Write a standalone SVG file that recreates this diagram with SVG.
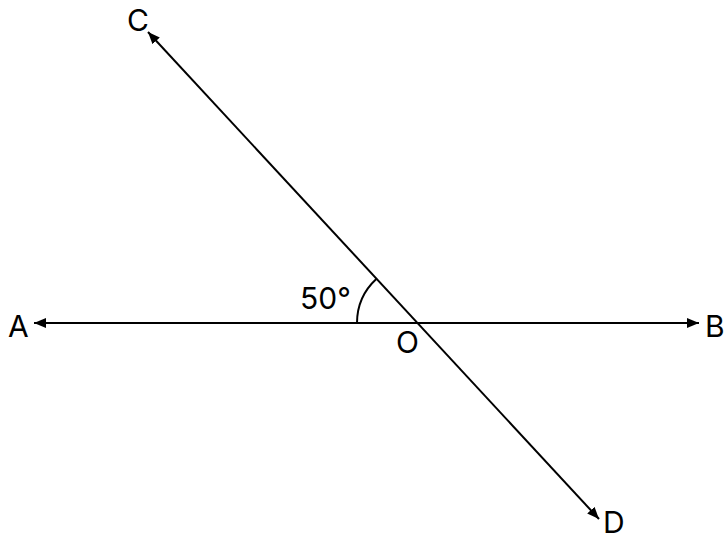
<svg xmlns="http://www.w3.org/2000/svg" width="728" height="545" viewBox="0 0 728 545">
<style>
.ln{stroke:#000;stroke-width:2;fill:none}
.lb{font-family:Inter,"Liberation Sans",sans-serif;font-size:30px;fill:#000}
</style>
<defs>
<marker id="ah" viewBox="0 0 12 10" refX="12" refY="5" markerWidth="12" markerHeight="10" markerUnits="userSpaceOnUse" orient="auto-start-reverse">
<path d="M0,0 L12,5 L0,10 z" fill="#000"/>
</marker>
</defs>
<rect width="728" height="545" fill="#fff"/>
<g id="connectors">
<line class="ln" x1="34" y1="323" x2="699" y2="323" marker-start="url(#ah)" marker-end="url(#ah)"/>
<line class="ln" x1="148" y1="32" x2="599" y2="519" marker-start="url(#ah)" marker-end="url(#ah)"/>
<path class="ln" d="M357,323 A60,60 0 0 1 376.3,279"/>
</g>
<g id="A"><text class="lb" x="8" y="337">A</text></g>
<g id="B"><text class="lb" x="705" y="337">B</text></g>
<g id="C"><text class="lb" x="127" y="31">C</text></g>
<g id="D"><text class="lb" x="603" y="533">D</text></g>
<g id="O"><text class="lb" x="396" y="353">O</text></g>
<g id="angle"><text class="lb" x="300" y="309">50°</text></g>
</svg>
